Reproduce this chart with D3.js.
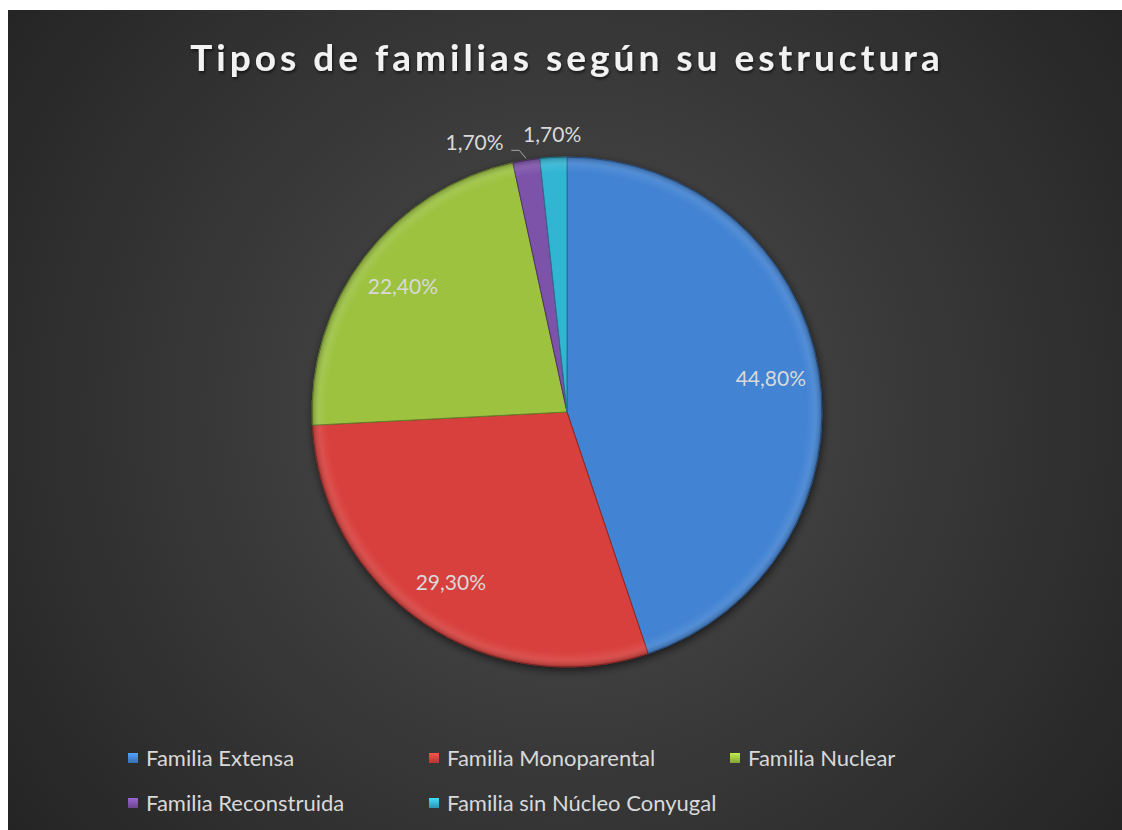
<!DOCTYPE html>
<html>
<head>
<meta charset="utf-8">
<script src="https://cdn.jsdelivr.net/npm/d3@7"></script>
<style>
    html, body { margin: 0; padding: 0; background: #ffffff; }
    svg { display: block; }
</style>
</head>
<body>
<div id="chart"></div>
<script>
const categories = ['Familia Extensa', 'Familia Monoparental', 'Familia Nuclear', 'Familia Reconstruida', 'Familia sin Núcleo Conyugal'];
const values = [44.8, 29.3, 22.4, 1.7, 1.7];
const labels = ['44,80%', '29,30%', '22,40%', '1,70%', '1,70%'];
const colors = ['#4283d3', '#d8413c', '#9cc23f', '#7d52aa', '#33b5d3'];
const title = 'Tipos de familias según su estructura';

const width = 1122;
const height = 830;
const frame = {left: 8, top: 10};
const cx = 567, cy = 412, radius = 255;
const textColor = '#d9d9d9';
const font = 'Lato, Carlito, "Open Sans", sans-serif';

const svg = d3.select('#chart')
    .append('svg')
    .attr('width', width)
    .attr('height', height);

const defs = svg.append('defs');

const bg = defs.append('radialGradient')
    .attr('id', 'bg')
    .attr('gradientUnits', 'userSpaceOnUse')
    .attr('cx', cx).attr('cy', cy).attr('r', 720);
bg.append('stop').attr('offset', '0%').attr('stop-color', '#4d4d4d');
bg.append('stop').attr('offset', '100%').attr('stop-color', '#232323');

const shadow = defs.append('filter')
    .attr('id', 'shadow')
    .attr('x', '-20%').attr('y', '-20%')
    .attr('width', '140%').attr('height', '140%');
shadow.append('feGaussianBlur').attr('in', 'SourceAlpha').attr('stdDeviation', 4);
shadow.append('feOffset').attr('dx', 1).attr('dy', 3).attr('result', 'blur');
shadow.append('feComponentTransfer').append('feFuncA').attr('type', 'linear').attr('slope', 0.6);
const merge = shadow.append('feMerge');
merge.append('feMergeNode');
merge.append('feMergeNode').attr('in', 'SourceGraphic');

const titleShadow = defs.append('filter').attr('id', 'tshadow');
titleShadow.append('feDropShadow')
    .attr('dx', 1).attr('dy', 2).attr('stdDeviation', 1.5)
    .attr('flood-color', '#000').attr('flood-opacity', 0.6);

// rim shading for a soft bevel look
const rim = defs.append('radialGradient')
    .attr('id', 'rim')
    .attr('gradientUnits', 'userSpaceOnUse')
    .attr('cx', 0).attr('cy', 0).attr('r', radius);
rim.append('stop').attr('offset', '0%').attr('stop-color', '#fff').attr('stop-opacity', 0);
rim.append('stop').attr('offset', '94%').attr('stop-color', '#fff').attr('stop-opacity', 0);
rim.append('stop').attr('offset', '97%').attr('stop-color', '#fff').attr('stop-opacity', 0.08);
rim.append('stop').attr('offset', '100%').attr('stop-color', '#000').attr('stop-opacity', 0.25);

colors.forEach((c, i) => {
    const g = defs.append('linearGradient')
        .attr('id', 'leg' + i)
        .attr('x1', 0).attr('y1', 0).attr('x2', 0).attr('y2', 1);
    g.append('stop').attr('offset', '0%').attr('stop-color', d3.color(c).brighter(0.6));
    g.append('stop').attr('offset', '100%').attr('stop-color', d3.color(c).darker(0.5));
});

svg.append('rect')
    .attr('x', frame.left).attr('y', frame.top)
    .attr('width', width - frame.left).attr('height', height - frame.top)
    .attr('fill', 'url(#bg)');

svg.append('text')
    .attr('x', cx)
    .attr('y', 71)
    .attr('text-anchor', 'middle')
    .attr('font-family', font)
    .attr('font-weight', 'bold')
    .attr('font-size', '37px')
    .attr('letter-spacing', '4px')
    .attr('fill', '#f2f2f2')
    .attr('filter', 'url(#tshadow)')
    .text(title);

const pie = d3.pie().sort(null).value(d => d)(values);
const arc = d3.arc().innerRadius(0).outerRadius(radius);
const labelArc = d3.arc().innerRadius(radius * 0.81).outerRadius(radius * 0.81);

const g = svg.append('g').attr('transform', `translate(${cx},${cy})`);

const slices = g.append('g').attr('filter', 'url(#shadow)');
slices.selectAll('path.slice')
    .data(pie)
    .enter().append('path')
    .attr('class', 'slice')
    .attr('d', arc)
    .attr('fill', (d, i) => colors[i])
    .attr('stroke', (d, i) => d3.color(colors[i]).darker(1.2))
    .attr('stroke-width', 1);

g.selectAll('path.rim')
    .data(pie)
    .enter().append('path')
    .attr('class', 'rim')
    .attr('d', arc)
    .attr('fill', 'url(#rim)');

// inner labels for the big slices
g.selectAll('text.inner')
    .data(pie.filter(d => d.value > 5))
    .enter().append('text')
    .attr('class', 'inner')
    .attr('transform', d => `translate(${labelArc.centroid(d)})`)
    .attr('text-anchor', 'middle')
    .attr('dy', '0.35em')
    .attr('font-family', font)
    .attr('font-size', '21px')
    .attr('fill', textColor)
    .text(d => labels[d.index]);

// outside labels for the small slices
const small = pie.filter(d => d.value <= 5);
const outer = (d, r, shift) => {
    const a = (d.startAngle + d.endAngle) / 2 + shift;
    return [Math.sin(a) * r, -Math.cos(a) * r];
};
small.forEach((d, k) => {
    const shift = k === 0 ? -0.17 : 0;
    const r = k === 0 ? 285 : 278;
    const p = outer(d, r, shift);
    g.append('text')
        .attr('x', p[0]).attr('y', p[1])
        .attr('text-anchor', 'middle')
        .attr('dy', '0.35em')
        .attr('font-family', font)
        .attr('font-size', '21px')
        .attr('fill', textColor)
        .text(labels[d.index]);
    if (k === 0) {
        const p0 = outer(d, radius + 2, 0);
        const p1 = outer(d, radius + 11, -0.02);
        g.append('polyline')
            .attr('points', [p0, p1, [p1[0] - 8, p1[1]]].map(q => q.join(',')).join(' '))
            .attr('fill', 'none')
            .attr('stroke', '#a6a6a6')
            .attr('stroke-width', 1);
    }
});

// legend
const legendX = d3.scalePoint().domain([0, 1, 2]).range([128, 730]);
const legendY = d3.scalePoint().domain([0, 1]).range([758, 803]);
const legend = svg.append('g')
    .selectAll('g')
    .data(categories)
    .enter().append('g')
    .attr('transform', (d, i) => `translate(${legendX(i % 3)},${legendY(Math.floor(i / 3))})`);
legend.append('rect')
    .attr('x', 0).attr('y', -5)
    .attr('width', 10).attr('height', 10)
    .attr('fill', (d, i) => `url(#leg${i})`);
legend.append('text')
    .attr('x', 18)
    .attr('dy', '0.35em')
    .attr('font-family', font)
    .attr('font-size', '22px')
    .attr('fill', textColor)
    .text(d => d);
</script>
</body>
</html>
